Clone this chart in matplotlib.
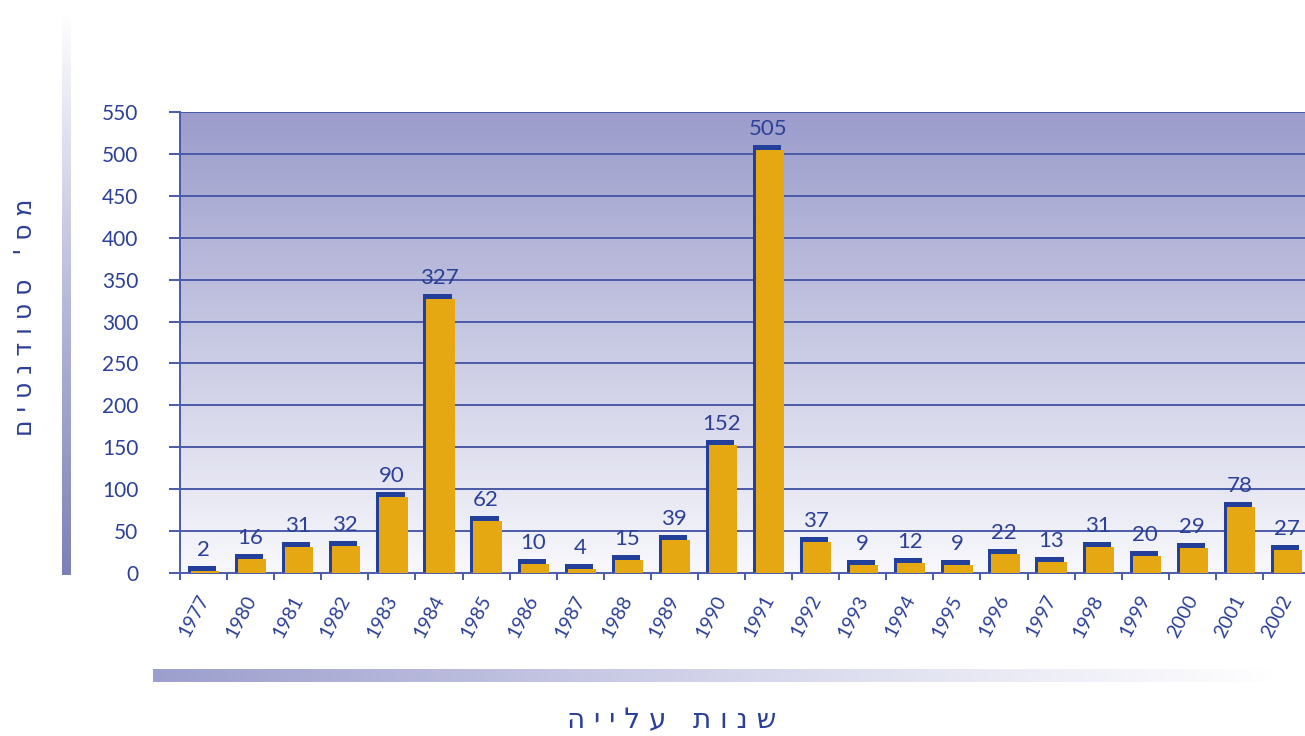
import numpy as np
import matplotlib
matplotlib.use('Agg')
import matplotlib.pyplot as plt
from matplotlib.colors import LinearSegmentedColormap
from matplotlib.transforms import ScaledTranslation

years = ['1977', '1980', '1981', '1982', '1983', '1984', '1985', '1986', '1987', '1988',
         '1989', '1990', '1991', '1992', '1993', '1994', '1995', '1996', '1997', '1998',
         '1999', '2000', '2001', '2002']
students = [2, 16, 31, 32, 90, 327, 62, 10, 4, 15, 39, 152, 505, 37, 9, 12, 9, 22, 13, 31,
            20, 29, 78, 27]
y_ticks = [0, 50, 100, 150, 200, 250, 300, 350, 400, 450, 500, 550]
x_title = 'שנות עלייה'
y_title = "מס' סטודנטים"

BLUE = '#22409a'
GOLD = '#e5a812'
GRID = '#4a5aa8'
TXT = '#2b4096'
FONT = ['Lato', 'DejaVu Sans']


def visual(s):
    # matplotlib has no bidi: reverse for right-to-left display and space the letters
    return ' '.join(s[::-1])


W, H = 1305, 736
fig = plt.figure(figsize=(W / 100, H / 100), dpi=100)

x0, x1 = 180, 1310
ytop, ybot = 112.3, 572.7
ax = fig.add_axes([x0 / W, (H - ybot) / H, (x1 - x0) / W, (ybot - ytop) / H])

x = np.arange(len(years))
ax.set_xlim(-0.5, len(years) - 0.5)
ax.set_ylim(0, 550)

# background gradient
bg = LinearSegmentedColormap.from_list('bg', ['#f8f8fc', '#c8c9e3', '#9b9ccb'])
ax.imshow(np.linspace(0, 1, 256).reshape(-1, 1), cmap=bg, aspect='auto', origin='lower',
          extent=[0, 1, 0, 1], transform=ax.transAxes, zorder=0)

for yt in y_ticks[1:]:
    ax.axhline(yt, color=GRID, lw=1.4, zorder=1)

vals = np.array(students)
up = ax.transData + ScaledTranslation(-1.5 / 100, 5 / 100, fig.dpi_scale_trans)
right = ax.transData + ScaledTranslation(1.5 / 100, 0, fig.dpi_scale_trans)
bb = ax.bar(x, vals + 10, bottom=-10, width=0.6, color=BLUE, zorder=2)
for p in bb:
    p.set_transform(up)
gb = ax.bar(x, vals, width=0.6, color=GOLD, zorder=3)
for p in gb:
    p.set_transform(right)

for xi, v in zip(x, vals):
    ax.annotate(str(v), (xi, v), xytext=(0, 8), textcoords='offset points',
                ha='center', va='bottom', fontsize=16, color=TXT, family=FONT,
                zorder=4)

ax.set_yticks(y_ticks)
ax.set_yticklabels([str(t) for t in y_ticks], family=FONT, fontsize=15, color=TXT)
ax.tick_params(axis='y', length=8, width=1.4, color=GRID, pad=22)

ax.set_xticks(x - 0.5, minor=False)
ax.set_xticklabels([])
ax.tick_params(axis='x', length=5, width=1.4, color=GRID)
for xi, lab in zip(x, years):
    ax.annotate(lab, (xi, 0), xytext=(6, -14), textcoords='offset points',
                rotation=62, ha='right', va='top', fontsize=14, color=TXT,
                family=FONT, annotation_clip=False)

for s in ['top', 'right']:
    ax.spines[s].set_visible(False)
for s in ['left', 'bottom']:
    ax.spines[s].set_color(GRID)
    ax.spines[s].set_linewidth(1.4)

# decorative gradient bars
vax = fig.add_axes([62 / W, (H - 575) / H, 9 / W, (575 - 12) / H])
vax.imshow(np.linspace(0, 1, 256).reshape(-1, 1), aspect='auto', origin='lower',
           cmap=LinearSegmentedColormap.from_list('v', ['#7b81b5', '#b9bbdb', '#ffffff']))
vax.axis('off')

hax = fig.add_axes([153 / W, (H - 682) / H, (1276 - 153) / W, 13 / H])
hax.imshow(np.linspace(0, 1, 256).reshape(1, -1), aspect='auto',
           cmap=LinearSegmentedColormap.from_list('h', ['#9c9ecd', '#d3d4ea', '#ffffff']))
hax.axis('off')

fig.text(25 / W, 1 - 317 / H, visual(y_title), rotation=90, ha='center', va='center',
         fontsize=18, color=TXT, family='DejaVu Sans')
fig.text(672 / W, 1 - 720 / H, visual(x_title), ha='center',
         va='center', fontsize=20, color=TXT, family='DejaVu Sans')

fig.savefig('out.png', dpi=100)
